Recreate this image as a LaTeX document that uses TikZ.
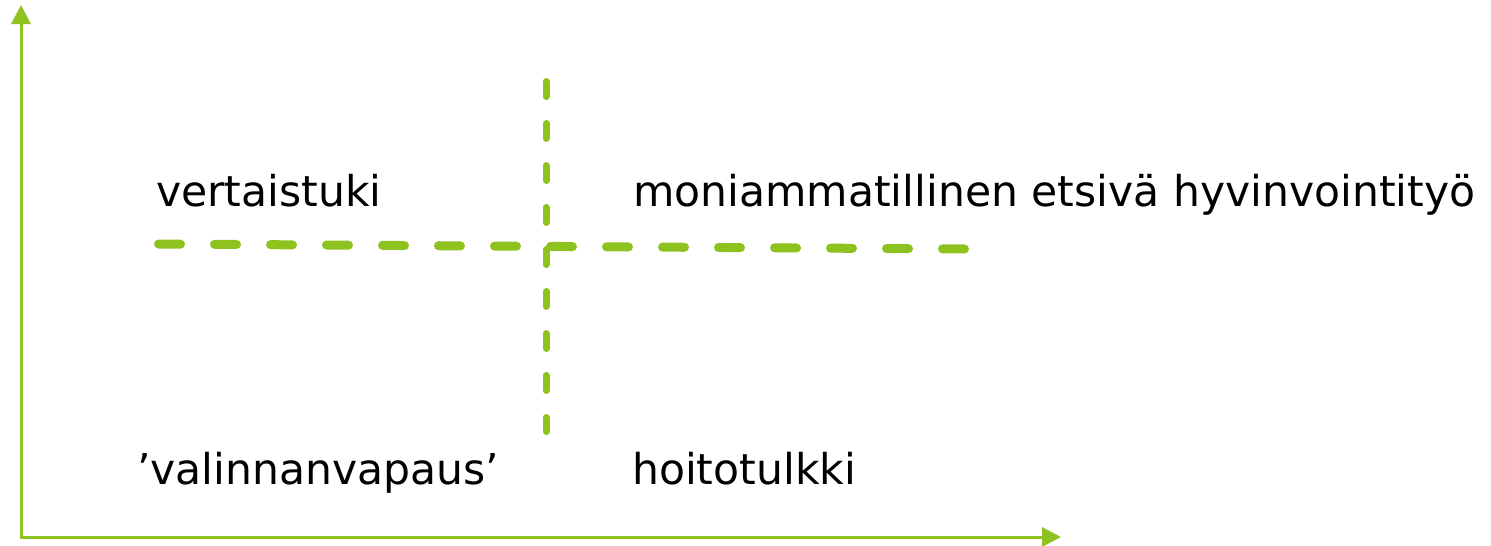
\documentclass[tikz,border=0pt]{standalone}
\usepackage{fontspec}
\setmainfont{DejaVu Sans}
\usetikzlibrary{arrows.meta}
\definecolor{lgreen}{RGB}{141,194,31}
\tikzset{
  axisline/.style={draw=lgreen, line width=3pt, {Triangle[length=19pt,width=19pt]}-{Triangle[length=19pt,width=19pt]}},
  hdash/.style={draw=lgreen, line width=9pt, line cap=round, dash pattern=on 22pt off 34pt},
  vdash/.style={draw=lgreen, line width=7pt, line cap=round, dash pattern=on 15pt off 27pt},
  lbl/.style={anchor=base west, inner sep=0pt, font=\fontsize{42.5}{50}\selectfont, text=black}
}
\begin{document}
\begin{tikzpicture}[x=1pt,y=-1pt]
\useasboundingbox (0,0) rectangle (1491,546);
\coordinate (ytop) at (21,5);
\coordinate (origin) at (21,537);
\coordinate (xend) at (1061,537);
\draw[axisline] (ytop) -- (origin) -- (xend);
\coordinate (hl) at (158.5,244);
\coordinate (hr) at (964.5,249);
\coordinate (vt) at (546,81.5);
\coordinate (vb) at (546,431.5);
\draw[hdash] (hl) -- (hr);
\draw[vdash] (vt) -- (vb);
\node[lbl] (vert) at (156,206) {vertaistuki};
\node[lbl] (moni) at (633,206) {moniammatillinen etsivä hyvinvointityö};
\node[lbl] (vali) at (137,484) {’valinnanvapaus’};
\node[lbl] (hoito) at (632,484) {hoitotulkki};
\end{tikzpicture}
\end{document}
